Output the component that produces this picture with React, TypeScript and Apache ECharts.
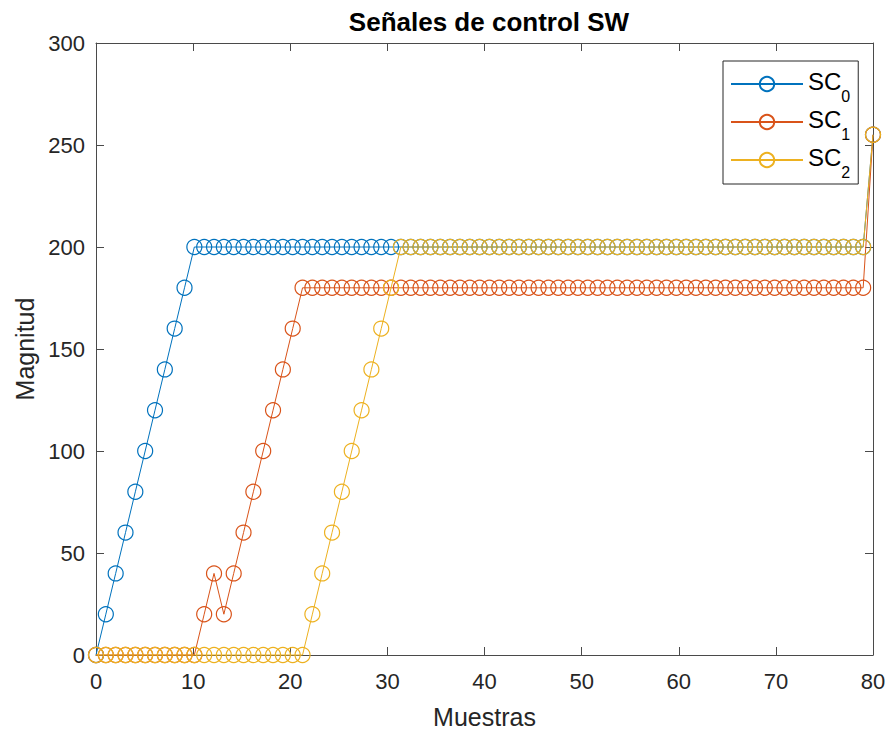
import React, { useEffect, useRef } from "react";
import * as echarts from "echarts";

// Sample positions: 80 samples spread over 0..80 (MATLAB linspace(0,80,80))
const sampleCount = 80;
const xStart = 0;
const xEnd = 80;

const seriesNames = ["SC0", "SC1", "SC2"];

const sc0 = [
  0, 20, 40, 60, 80, 100, 120, 140, 160, 180,
  200, 200, 200, 200, 200, 200, 200, 200, 200, 200,
  200, 200, 200, 200, 200, 200, 200, 200, 200, 200,
  200, 200, 200, 200, 200, 200, 200, 200, 200, 200,
  200, 200, 200, 200, 200, 200, 200, 200, 200, 200,
  200, 200, 200, 200, 200, 200, 200, 200, 200, 200,
  200, 200, 200, 200, 200, 200, 200, 200, 200, 200,
  200, 200, 200, 200, 200, 200, 200, 200, 200, 255,
];

const sc1 = [
  0, 0, 0, 0, 0, 0, 0, 0, 0, 0,
  0, 20, 40, 20, 40, 60, 80, 100, 120, 140,
  160, 180, 180, 180, 180, 180, 180, 180, 180, 180,
  180, 180, 180, 180, 180, 180, 180, 180, 180, 180,
  180, 180, 180, 180, 180, 180, 180, 180, 180, 180,
  180, 180, 180, 180, 180, 180, 180, 180, 180, 180,
  180, 180, 180, 180, 180, 180, 180, 180, 180, 180,
  180, 180, 180, 180, 180, 180, 180, 180, 180, 255,
];

const sc2 = [
  0, 0, 0, 0, 0, 0, 0, 0, 0, 0,
  0, 0, 0, 0, 0, 0, 0, 0, 0, 0,
  0, 0, 20, 40, 60, 80, 100, 120, 140, 160,
  180, 200, 200, 200, 200, 200, 200, 200, 200, 200,
  200, 200, 200, 200, 200, 200, 200, 200, 200, 200,
  200, 200, 200, 200, 200, 200, 200, 200, 200, 200,
  200, 200, 200, 200, 200, 200, 200, 200, 200, 200,
  200, 200, 200, 200, 200, 200, 200, 200, 200, 255,
];

const seriesValues = [sc0, sc1, sc2];
const seriesColors = ["#0072BD", "#D95319", "#EDB120"];

const xTicks = [0, 10, 20, 30, 40, 50, 60, 70, 80];
const yTicks = [0, 50, 100, 150, 200, 250, 300];

const titleText = "Señales de control SW";
const xLabel = "Muestras";
const yLabel = "Magnitud";

const FONT = "'Liberation Sans', Arial, Helvetica, sans-serif";
const AXIS = "#262626";
const AXIS_LINE = "#4a4a4a";

export default function App() {
  const ref = useRef<HTMLDivElement>(null);

  useEffect(() => {
    document.body.style.margin = "0";
    if (!ref.current) return;
    const chart = echarts.init(ref.current, null, { renderer: "svg" });

    const step = (xEnd - xStart) / (sampleCount - 1);
    const xs = Array.from({ length: sampleCount }, (_, i) => xStart + i * step);

    const line = { show: true, onZero: false, lineStyle: { color: AXIS_LINE, width: 1 } };
    const tick = { show: true, inside: true, length: 8, lineStyle: { color: AXIS_LINE, width: 1 } };

    const option: any = {
      animation: false,
      backgroundColor: "#ffffff",
      title: {
        text: titleText,
        left: 484,
        textAlign: "center",
        top: 4,
        textStyle: { fontFamily: FONT, fontSize: 26, fontWeight: "bold", color: "#000000" },
      },
      grid: { left: 96, right: 18, top: 43, bottom: 75, containLabel: false, outerBoundsMode: "none" },
      legend: {
        orient: "vertical",
        left: 723,
        top: 61,
        backgroundColor: "#ffffff",
        borderColor: AXIS,
        borderWidth: 1,
        padding: [8, 8, 4, 7],
        itemGap: 3,
        itemWidth: 72,
        itemHeight: 18,
        data: seriesNames,
        formatter: (name: string) => `{a|SC}{b|${name.slice(2)}}`,
        textStyle: {
          fontFamily: FONT,
          color: "#000000",
          rich: {
            a: { fontFamily: FONT, fontSize: 24, lineHeight: 30, verticalAlign: "top", color: "#000000" },
            b: { fontFamily: FONT, fontSize: 16, lineHeight: 16, padding: [19, 0, 0, 0], verticalAlign: "top", color: "#000000" },
          },
        },
      },
      xAxis: [
        {
          type: "value",
          position: "bottom",
          min: 0,
          max: 80,
          interval: 10,
          name: xLabel,
          nameLocation: "middle",
          nameGap: 49,
          nameTextStyle: { fontFamily: FONT, fontSize: 25, color: AXIS },
          axisLabel: {
            fontFamily: FONT,
            fontSize: 22,
            color: AXIS,
            margin: 15,
            formatter: (v: number) => (xTicks.includes(v) ? String(v) : ""),
          },
          axisLine: line,
          axisTick: tick,
          splitLine: { show: false },
        },
        {
          type: "value",
          position: "top",
          min: 0,
          max: 80,
          interval: 10,
          axisLabel: { show: false },
          axisLine: line,
          axisTick: tick,
          splitLine: { show: false },
        },
      ],
      yAxis: [
        {
          type: "value",
          position: "left",
          min: 0,
          max: 300,
          interval: 50,
          name: yLabel,
          nameLocation: "middle",
          nameGap: 53,
          nameTextStyle: { fontFamily: FONT, fontSize: 25, color: AXIS },
          axisLabel: {
            fontFamily: FONT,
            fontSize: 22,
            color: AXIS,
            margin: 11,
            formatter: (v: number) => (yTicks.includes(v) ? String(v) : ""),
          },
          axisLine: line,
          axisTick: tick,
          splitLine: { show: false },
        },
        {
          type: "value",
          position: "right",
          min: 0,
          max: 300,
          interval: 50,
          axisLabel: { show: false },
          axisLine: line,
          axisTick: tick,
          splitLine: { show: false },
        },
      ],
      series: seriesNames.map((name, k) => ({
        name,
        type: "line",
        xAxisIndex: 0,
        yAxisIndex: 0,
        data: seriesValues[k].map((v, i) => [xs[i], v]),
        symbol: "circle",
        symbolSize: 15,
        showSymbol: true,
        showAllSymbol: true,
        lineStyle: { color: seriesColors[k], width: 1 },
        itemStyle: { color: "rgba(255,255,255,0)", borderColor: seriesColors[k], borderWidth: 1.2 },
        emphasis: { disabled: true },
        clip: false,
      })),
    };

    chart.setOption(option);
    return () => chart.dispose();
  }, []);

  return <div ref={ref} style={{ width: 891, height: 730 }} />;
}
